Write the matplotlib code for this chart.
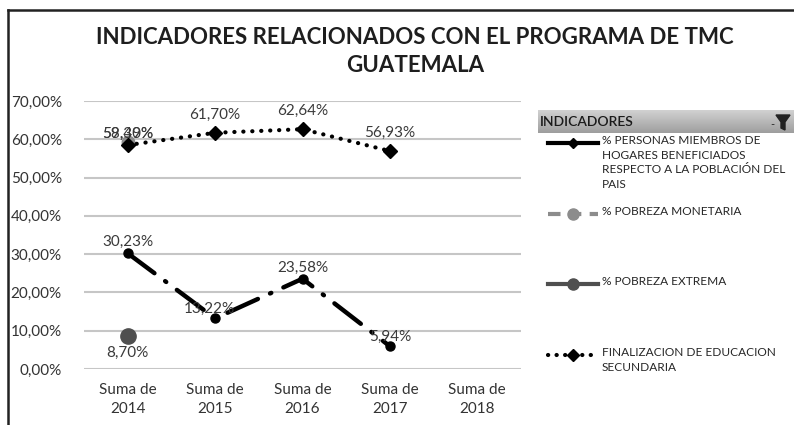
import numpy as np
import matplotlib
matplotlib.use("Agg")
import matplotlib.pyplot as plt
from matplotlib.lines import Line2D
from matplotlib.patches import Polygon
from matplotlib.ticker import FuncFormatter

plt.rcParams["font.family"] = ["Lato", "DejaVu Sans"]

# ------------------------------------------------------------------
# data
# ------------------------------------------------------------------
years = ["Suma de\n2014", "Suma de\n2015", "Suma de\n2016", "Suma de\n2017", "Suma de\n2018"]
personas_benef = [0.3023, 0.1322, 0.2358, 0.0594, np.nan]
pobreza_monetaria = [0.5930, np.nan, np.nan, np.nan, np.nan]
pobreza_extrema = [0.0870, np.nan, np.nan, np.nan, np.nan]
educ_secundaria = [0.5849, 0.6170, 0.6264, 0.5693, np.nan]

legend_labels = [
    "% PERSONAS MIEMBROS DE\nHOGARES BENEFICIADOS\nRESPECTO A LA POBLACIÓN DEL\nPAIS",
    "% POBREZA MONETARIA",
    "% POBREZA EXTREMA",
    "FINALIZACION DE EDUCACION\nSECUNDARIA",
]

W, H = 794, 425
fig = plt.figure(figsize=(W / 100, H / 100), dpi=100)
ax = fig.add_axes([84 / W, 1 - 369 / H, 437 / W, 268 / H])

x = np.arange(len(years))
lbl_color = "#3a3a3a"
lbl_size = 11

# education: dotted line with big markers
ax.plot(x, educ_secundaria, color="black", lw=3.0, linestyle=(0, (0.05, 2.1)),
        dash_capstyle="round", marker="D", ms=7.5, zorder=3)
# people in beneficiary households: long dash-dot
ax.plot(x, personas_benef, color="black", lw=3.2, linestyle=(0, (7.5, 3.0, 0.3, 3.0)),
        dash_capstyle="round", marker="o", ms=6.5, zorder=3)
ax.plot(x, pobreza_monetaria, color="#8c8c8c", lw=2.5, marker="o", ms=9, zorder=2)
ax.plot(x, pobreza_extrema, color="#4f4f4f", lw=2.5, marker="o", ms=11, zorder=2)


def pct(v):
    return f"{v * 100:.2f}%".replace(".", ",")


for i, v in enumerate(educ_secundaria):
    if not np.isnan(v):
        dy = 3 if i == 0 else 8
        ax.annotate(pct(v), (x[i], v), xytext=(0, dy), textcoords="offset points",
                    ha="center", va="bottom", fontsize=lbl_size, color=lbl_color)
# the 2014 labels of both top series sit on top of each other, as in the source
ax.annotate(pct(pobreza_monetaria[0]), (x[0], educ_secundaria[0]), xytext=(0, 3),
            textcoords="offset points", ha="center", va="bottom", fontsize=lbl_size,
            color=lbl_color)
ax.annotate(pct(pobreza_extrema[0]), (x[0], pobreza_extrema[0]), xytext=(0, -7),
            textcoords="offset points", ha="center", va="top", fontsize=lbl_size,
            color=lbl_color)
for i, v in enumerate(personas_benef):
    if not np.isnan(v):
        dx = -4 if i == 1 else 0
        dy = 2 if i in (1, 3) else 3
        ax.annotate(pct(v), (x[i], v), xytext=(dx, dy), textcoords="offset points",
                    ha="center", va="bottom", fontsize=lbl_size, color=lbl_color)

ax.set_xlim(-0.5, len(years) - 0.5)
ax.set_ylim(0, 0.70)
ax.set_yticks(np.arange(0, 0.71, 0.10))
ax.yaxis.set_major_formatter(FuncFormatter(lambda v, p: f"{v * 100:.2f}%".replace(".", ",")))
ax.set_xticks(x)
ax.set_xticklabels(years, linespacing=1.45)
ax.tick_params(length=0, labelsize=11, colors="#333333")
ax.tick_params(axis="x", pad=10)
ax.tick_params(axis="y", pad=16)
ax.grid(axis="y", color="#c6c6c6", lw=1.5)
ax.set_axisbelow(True)
for s in ax.spines.values():
    s.set_visible(False)

# title
fig.text(415 / W, 1 - 38 / H, "INDICADORES RELACIONADOS CON EL PROGRAMA DE TMC",
         ha="center", va="center", fontsize=16, fontweight="bold", color="#1e1e1e")
fig.text(415 / W, 1 - 66 / H, "GUATEMALA",
         ha="center", va="center", fontsize=16, fontweight="bold", color="#1e1e1e")

# outer frame (left and top edges)
fig.add_artist(Line2D([8 / W, 8 / W], [0, 1 - 10 / H], color="#222222", lw=1.8))
fig.add_artist(Line2D([8 / W, 1], [1 - 10 / H, 1 - 10 / H], color="#222222", lw=1.8))

# legend header bar with gradient
grad = np.linspace(0.82, 0.62, 50).reshape(-1, 1)
hax = fig.add_axes([538 / W, 1 - 133 / H, (W - 538) / W, 23 / H])
hax.imshow(grad, aspect="auto", cmap="gray", vmin=0, vmax=1, extent=[0, 1, 0, 1])
hax.set_axis_off()
fig.text(540 / W, 1 - 122 / H, "INDICADORES", ha="left", va="center",
         fontsize=10, fontweight="semibold", color="#1a1a1a")
fig.add_artist(Polygon([[776 / W, 1 - 115 / H], [790 / W, 1 - 115 / H],
                        [785 / W, 1 - 122 / H], [785 / W, 1 - 130 / H],
                        [781 / W, 1 - 128 / H], [781 / W, 1 - 122 / H]],
                       closed=True, color="#222222", transform=fig.transFigure))
fig.text(772 / W, 1 - 125 / H, "-", fontsize=8, ha="center", va="center", color="#222222")

# legend entries drawn by hand
tx = 602 / W
hx = [548 / W, 598 / W]
ys = [143, 214, 284, 355]
handles = [
    dict(color="black", lw=3, linestyle="-", marker="D", ms=5),
    dict(color="#8c8c8c", lw=3, linestyle=(0, (3, 2)), marker="o", ms=8),
    dict(color="#4f4f4f", lw=3, linestyle="-", marker="o", ms=8),
    dict(color="black", lw=3, linestyle=(0, (0.05, 2.0)), dash_capstyle="round",
         marker="D", ms=6),
]
for y, lab, kw in zip(ys, legend_labels, handles):
    fy = 1 - y / H
    fig.add_artist(Line2D(hx, [fy, fy], **{k: v for k, v in kw.items() if k not in ("marker", "ms")}))
    fig.add_artist(Line2D([(hx[0] + hx[1]) / 2], [fy], color=kw["color"],
                          marker=kw["marker"], ms=kw["ms"], lw=0))
    fig.text(tx, fy + 8 / H, lab, ha="left", va="top", fontsize=8.6,
             color="#262626", linespacing=1.4)

fig.savefig("out.png", dpi=100)
